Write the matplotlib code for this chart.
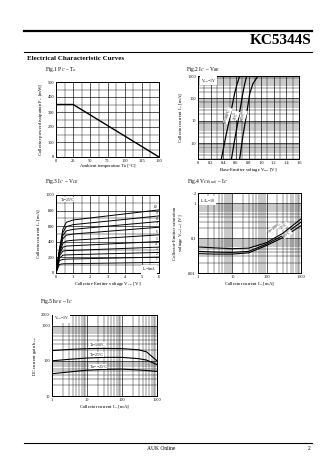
import numpy as np
import matplotlib
matplotlib.use("Agg")
import matplotlib.pyplot as plt
from matplotlib.lines import Line2D

plt.rcParams['font.family'] = ['Liberation Serif', 'DejaVu Serif']
plt.rcParams['mathtext.fontset'] = 'stix'

W, H = 336, 475

# Fig.1 Pc - Ta
ta = [0, 25, 150]
pc = [350, 350, 0]

# Fig.2 Ic - Vbe
vbe_a = [0.37, 0.44, 0.51, 0.58, 0.62, 0.66]
vbe_b = [0.53, 0.59, 0.65, 0.71, 0.74, 0.77]
vbe_c = [0.66, 0.71, 0.765, 0.82, 0.87, 0.95]
ic_vbe = [0.2, 2, 17, 167, 450, 1000]
vbe_labels = ["Ta=100°C", "25°C", "−25°C"]

# Fig.3 Ic - Vce
vce = [0, 0.2, 0.4, 0.6, 1.0, 6.0]
ic_vce = [
    [0, 300, 560, 650, 680, 809],
    [0, 290, 520, 595, 620, 732],
    [0, 280, 480, 540, 560, 660],
    [0, 270, 440, 485, 500, 587],
    [0, 255, 380, 410, 420, 489],
    [0, 240, 330, 345, 350, 404],
    [0, 220, 280, 287, 290, 332],
    [0, 190, 228, 232, 235, 264],
    [0, 160, 175, 178, 180, 204],
    [0, 110, 118, 119, 120, 136],
]
ib_labels = ["10", "9", "8", "7", "6", "5", "4", "3", "2", "1"]

# Fig.4 Vce(sat) - Ic
ic_sat = [1, 3, 10, 30, 100, 300, 1000]
vsat_hot = [0.056, 0.053, 0.050, 0.052, 0.075, 0.14, 0.36]
vsat_room = [0.042, 0.040, 0.039, 0.042, 0.068, 0.12, 0.29]
vsat_cold = [0.036, 0.035, 0.035, 0.038, 0.062, 0.105, 0.23]

# Fig.5 hFE - Ic
ic_hfe = [1, 3, 10, 30, 100, 300, 500, 1000]
hfe_100 = [195, 210, 222, 225, 222, 205, 180, 100]
hfe_25 = [100, 110, 120, 125, 125, 115, 105, 78]
hfe_m25 = [43, 48, 54, 57, 58, 55, 53, 50]

fig = plt.figure(figsize=(W / 100, H / 100), dpi=100)


def fx(x):
    return x / W


def fy(y):
    return 1 - y / H


def make_axes(x0, y0, x1, y1):
    ax = fig.add_axes([fx(x0), fy(y1), fx(x1) - fx(x0), fy(y0) - fy(y1)])
    ax.tick_params(which='both', length=0, labelsize=3.2, pad=1.5)
    for s in ax.spines.values():
        s.set_linewidth(0.7)
    return ax


def grid_lines(ax):
    ax.grid(True, which='major', color='black', lw=0.45)
    ax.grid(True, which='minor', color='black', lw=0.3)


lab = dict(fontsize=3.4)

# ---- header / footer
fig.add_artist(Line2D([fx(24), fx(312)], [fy(30.5), fy(30.5)], color='black', lw=1.6))
fig.text(fx(312), fy(40), "KC5344S", ha='right', va='center', fontsize=11, fontweight='bold')
fig.add_artist(Line2D([fx(24), fx(312)], [fy(52), fy(52)], color='black', lw=0.8))
fig.text(fx(27), fy(58), "Electrical Characteristic Curves", fontsize=5, fontweight='bold', va='center')
fig.add_artist(Line2D([fx(24), fx(312)], [fy(443), fy(443)], color='black', lw=0.8))
fig.text(fx(161), fy(449), "AUK Online", fontsize=4, ha='center', va='center')
fig.text(fx(311), fy(449), "2", fontsize=4, ha='right', va='center')

# ---- Fig.1
ax1 = make_axes(56, 82, 159, 157)
ax1.plot(ta, pc, color='black', lw=1.0)
ax1.set_xlim(0, 150)
ax1.set_ylim(0, 500)
ax1.set_xticks([0, 25, 50, 75, 100, 125, 150])
ax1.set_xticks(np.arange(0, 151, 12.5), minor=True)
ax1.set_yticks([0, 100, 200, 300, 400, 500])
ax1.set_yticks(np.arange(0, 501, 50), minor=True)
grid_lines(ax1)
ax1.set_xlabel(r"Ambient temperature Ta [°C]", labelpad=1, **lab)
ax1.set_ylabel(r"Collector power dissipation P$_C$ [mW]", labelpad=2, **lab)
fig.text(fx(45), fy(70), r"Fig.1 P$_C$ – T$_a$", fontsize=4, va='center')

# ---- Fig.2
ax2 = make_axes(198, 76, 299, 159)
for v, lbl in zip([vbe_a, vbe_b, vbe_c], vbe_labels):
    ax2.plot(v, ic_vbe, color='black', lw=0.9)
ax2.set_yscale('log')
ax2.set_xlim(0, 1.6)
ax2.set_ylim(0.2, 1000)
ax2.set_xticks([0, 0.2, 0.4, 0.6, 0.8, 1.0, 1.2, 1.4, 1.6])
ax2.set_xticklabels(["0", "0.2", "0.4", "0.6", "0.8", "1.0", "1.2", "1.4", "1.6"])
ax2.set_xticks(np.arange(0, 1.61, 0.1), minor=True)
ax2.set_yticks([1, 10, 100, 1000])
ax2.set_yticklabels(["1.0", "10", "100", "1000"])
ax2.tick_params(axis='y', which='minor', labelleft=False)
grid_lines(ax2)
for v, lbl in zip([vbe_a, vbe_b, vbe_c], vbe_labels):
    ax2.text(v[2] - 0.04, ic_vbe[2], lbl, rotation=72, fontsize=2.8, ha='center', va='center',
             bbox=dict(facecolor='white', edgecolor='none', pad=0.3))
ax2.text(0.05, 600, r"V$_{CE}$=1V", fontsize=2.8, va='center',
         bbox=dict(facecolor='white', edgecolor='none', pad=0.5))
ax2.set_xlabel(r"Base-Emitter voltage V$_{BE}$ [V]", labelpad=1, **lab)
ax2.set_ylabel(r"Collector current I$_C$ [mA]", labelpad=2, **lab)
fig.text(fx(186), fy(70), r"Fig.2 I$_C$ – V$_{BE}$", fontsize=4, va='center')

# ---- Fig.3
ax3 = make_axes(56, 195, 159, 273)
for curve, lbl in zip(ic_vce, ib_labels):
    ax3.plot(vce, curve, color='black', lw=0.7)
    ax3.text(5.9, curve[-1] + 12, lbl, fontsize=2.6, ha='right', va='bottom')
ax3.set_xlim(0, 6)
ax3.set_ylim(0, 1000)
ax3.set_xticks(range(0, 7))
ax3.set_xticks(np.arange(0, 6.01, 0.5), minor=True)
ax3.set_yticks([0, 200, 400, 600, 800, 1000])
ax3.set_yticks(np.arange(0, 1001, 100), minor=True)
grid_lines(ax3)
ax3.text(0.3, 940, "Ta=25°C", fontsize=2.8, va='center',
         bbox=dict(facecolor='white', edgecolor='none', pad=0.5))
ax3.text(5.85, 45, r"I$_B$=1mA", fontsize=2.6, ha='right', va='center',
         bbox=dict(facecolor='white', edgecolor='none', pad=0.5))
ax3.set_xlabel(r"Collector-Emitter voltage V$_{CE}$ [V]", labelpad=1, **lab)
ax3.set_ylabel(r"Collector current I$_C$ [mA]", labelpad=2, **lab)
fig.text(fx(45), fy(182), r"Fig.3 I$_C$ – V$_{CE}$", fontsize=4, va='center')

# ---- Fig.4
ax4 = make_axes(198, 193, 301, 273)
for v in [vsat_hot, vsat_room, vsat_cold]:
    ax4.plot(ic_sat, v, color='black', lw=0.8)
ax4.set_xscale('log')
ax4.set_yscale('log')
ax4.set_xlim(1, 1000)
ax4.set_ylim(0.01, 2)
ax4.set_xticks([1, 10, 100, 1000])
ax4.set_xticklabels(["1", "10", "100", "1000"])
ax4.set_yticks([0.01, 0.1, 1, 2])
ax4.set_yticklabels(["0.01", "0.1", "1", "2"])
ax4.tick_params(which='minor', labelleft=False, labelbottom=False)
grid_lines(ax4)
ax4.text(1.15, 1.2, r"I$_C$/I$_B$=10", fontsize=2.8, va='center',
         bbox=dict(facecolor='white', edgecolor='none', pad=0.5))
ax4.text(170, 0.2, "Ta=100°C", rotation=35, fontsize=2.6, ha='center', va='center',
         bbox=dict(facecolor='white', edgecolor='none', pad=0.2))
ax4.text(330, 0.23, "25°C", rotation=35, fontsize=2.6, ha='center', va='center',
         bbox=dict(facecolor='white', edgecolor='none', pad=0.2))
ax4.text(400, 0.13, "−25°C", rotation=35, fontsize=2.6, ha='center', va='center',
         bbox=dict(facecolor='white', edgecolor='none', pad=0.2))
ax4.set_xlabel(r"Collector current I$_C$ [mA]", labelpad=1, **lab)
ax4.set_ylabel("Collector-Emitter saturation\n" + r"voltage V$_{CE(sat)}$ [V]", labelpad=2,
               fontsize=3.4, linespacing=1.0)
fig.text(fx(187), fy(182), r"Fig.4 V$_{CE(sat)}$ – I$_C$", fontsize=4, va='center')

# ---- Fig.5
ax5 = make_axes(52, 315, 157, 396)
for h in [hfe_100, hfe_25, hfe_m25]:
    ax5.plot(ic_hfe, h, color='black', lw=0.8)
ax5.set_xscale('log')
ax5.set_yscale('log')
ax5.set_xlim(1, 1000)
ax5.set_ylim(10, 2000)
ax5.set_xticks([1, 10, 100, 1000])
ax5.set_xticklabels(["1", "10", "100", "1000"])
ax5.set_yticks([10, 100, 1000, 2000])
ax5.set_yticklabels(["10", "100", "1000", "2000"])
ax5.tick_params(which='minor', labelleft=False, labelbottom=False)
grid_lines(ax5)
ax5.text(1.15, 1600, r"V$_{CE}$=1V", fontsize=2.8, va='center',
         bbox=dict(facecolor='white', edgecolor='none', pad=0.5))
ax5.text(12, 290, "Ta=100°C", fontsize=2.8, va='center',
         bbox=dict(facecolor='white', edgecolor='none', pad=0.3))
ax5.text(12, 150, "Ta=25°C", fontsize=2.8, va='center',
         bbox=dict(facecolor='white', edgecolor='none', pad=0.3))
ax5.text(12, 68, "Ta= −25°C", fontsize=2.8, va='center',
         bbox=dict(facecolor='white', edgecolor='none', pad=0.3))
ax5.set_xlabel(r"Collector current I$_C$ [mA]", labelpad=1, **lab)
ax5.set_ylabel(r"DC current gain h$_{FE}$", labelpad=2, **lab)
fig.text(fx(40), fy(302), r"Fig.5 h$_{FE}$ – I$_C$", fontsize=4, va='center')

fig.savefig("out.png", dpi=100)
